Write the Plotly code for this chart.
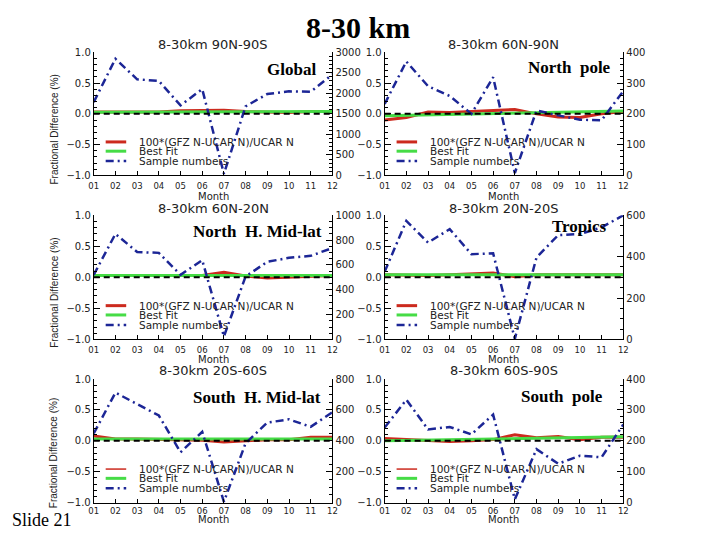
import plotly.graph_objects as go

W, H = 720, 540

months = list(range(1, 13))
month_labels = ["01", "02", "03", "04", "05", "06", "07", "08", "09", "10", "11", "12"]

panel_titles = ["8-30km 90N-90S", "8-30km 60N-90N", "8-30km 60N-20N",
                "8-30km 20N-20S", "8-30km 20S-60S", "8-30km 60S-90S"]
region_labels = ["Global", "North\u00a0\u00a0pole", "North\u00a0\u00a0H. Mid-lat",
                 "Tropics", "South\u00a0\u00a0H. Mid-lat", "South\u00a0\u00a0pole"]

# 100*(GFZ N - UCAR N)/UCAR N  (fractional difference, %)
diff_global = [0.03, 0.03, 0.04, 0.03, 0.05, 0.05, 0.06, 0.04, 0.03, 0.02, 0.04, 0.04]
diff_npole = [-0.10, -0.06, 0.03, 0.02, 0.04, 0.05, 0.07, 0.00, -0.05, -0.06, 0.00, 0.04]
diff_nmid = [0.03, 0.03, 0.02, 0.03, 0.03, 0.03, 0.08, 0.02, -0.01, 0.00, 0.02, 0.03]
diff_trop = [0.04, 0.03, 0.03, 0.04, 0.05, 0.07, 0.01, 0.04, 0.04, 0.04, 0.04, 0.04]
diff_smid = [0.08, 0.03, 0.03, 0.02, 0.02, 0.01, -0.02, 0.00, 0.02, 0.02, 0.06, 0.06]
diff_spole = [0.04, 0.02, 0.01, -0.01, 0.00, 0.02, 0.10, 0.05, 0.07, 0.02, 0.06, 0.06]

# Best fit lines (values at month 01 and month 12)
fit_months = [1, 12]
fit_global = [0.025, 0.04]
fit_npole = [-0.03, 0.045]
fit_nmid = [0.03, 0.03]
fit_trop = [0.04, 0.04]
fit_smid = [0.03, 0.03]
fit_spole = [0.0, 0.065]

# Sample numbers (right axis)
samples_global = [1786, 2841, 2341, 2302, 1706, 2103, 40, 1683, 1984, 2048, 2040, 2460]
samples_npole = [232, 370, 290, 258, 200, 319, 8, 211, 195, 181, 179, 274]
samples_nmid = [520, 850, 704, 697, 520, 638, 24, 507, 625, 657, 673, 736]
samples_trop = [327, 573, 468, 533, 412, 416, 3, 396, 504, 509, 541, 600]
samples_smid = [448, 712, 638, 564, 326, 459, 6, 385, 518, 539, 491, 585]
samples_spole = [243, 333, 237, 245, 221, 285, 11, 173, 126, 152, 147, 253]

diffs = [diff_global, diff_npole, diff_nmid, diff_trop, diff_smid, diff_spole]
fits = [fit_global, fit_npole, fit_nmid, fit_trop, fit_smid, fit_spole]
samples = [samples_global, samples_npole, samples_nmid, samples_trop, samples_smid, samples_spole]
sample_max = [3000, 400, 1000, 600, 800, 400]
sample_dtick = [500, 100, 200, 200, 200, 100]

legend_labels = ["100*(GFZ N-UCAR N)/UCAR N", "Best Fit", "Sample numbers"]

RED = "#cc2a1e"
GREEN = "#46dc46"
BLUE = "#1c2696"
YTICKFONT = dict(family="DejaVu Sans", size=10, color="#222222")
XTICKFONT = dict(family="DejaVu Sans", size=8.5, color="#222222")

# layout geometry in pixels
col_x = [(90, 332), (385, 627)]
row_y = [(47.3, 173.3), (214, 341), (381.5, 508)]
title_y = [39, 207, 373]
month_y = [195, 362, 525]
ylab_y = [126, 293, 457]
xlab_standoff = [2, 2, 0]
region_pos = [(317, 65), (617, 63), (323, 231), (612, 226), (322, 400), (608, 399)]
red_legend_w = [3, 3, 3, 3, 1.5, 1.5]


def px(x):
    return x / W


def py(y):
    return 1 - y / H


fig = go.Figure()
layout = dict(width=W, height=H, margin=dict(l=0, r=0, t=0, b=0),
              paper_bgcolor="white", plot_bgcolor="white", showlegend=False)
annotations = []
shapes = []

for i in range(6):
    r, c = divmod(i, 2)
    n = i + 1
    xa = "x" if n == 1 else f"x{n}"
    ya = "y" if n == 1 else f"y{n}"
    ya2 = f"y{n + 6}"
    xd = [px(col_x[c][0]), px(col_x[c][1])]
    yd = [py(row_y[r][1]), py(row_y[r][0])]

    layout[f"xaxis{n}"] = dict(domain=xd, anchor=ya, range=[1, 12], tickvals=months,
                               ticktext=month_labels, ticks="inside", ticklen=4,
                               tickcolor="black", showline=True, linecolor="black",
                               linewidth=1, mirror=False, showgrid=False, zeroline=False,
                               tickfont=XTICKFONT, ticklabelstandoff=xlab_standoff[r])
    layout[f"yaxis{n}"] = dict(domain=yd, anchor=xa, range=[-1, 1], dtick=0.5,
                               tickformat=".1f", ticks="inside", ticklen=6,
                               tickcolor="black", showline=True, linecolor="black",
                               linewidth=1, showgrid=False, zeroline=False,
                               tickfont=YTICKFONT,
                               minor=dict(dtick=0.1, ticks="inside", ticklen=3,
                                          tickcolor="black", showgrid=False))
    layout[f"yaxis{n + 6}"] = dict(overlaying=ya, anchor=xa, side="right",
                                   range=[0, sample_max[i]], dtick=sample_dtick[i],
                                   ticks="inside", ticklen=6, tickcolor="black",
                                   showline=True, linecolor="black", linewidth=1,
                                   showgrid=False, zeroline=False, tickfont=YTICKFONT,
                                   minor=dict(nticks=5, ticks="inside", ticklen=3,
                                              tickcolor="black", showgrid=False))

    # zero reference line
    shapes.append(dict(type="line", xref=f"{xa} domain", yref=ya, x0=0, x1=1, y0=0, y1=0,
                       line=dict(color="black", width=2, dash="6px,4px")))

    fig.add_trace(go.Scatter(x=months, y=diffs[i], xaxis=xa, yaxis=ya, mode="lines",
                             line=dict(color=RED, width=3), name=legend_labels[0]))
    fig.add_trace(go.Scatter(x=fit_months, y=fits[i], xaxis=xa, yaxis=ya, mode="lines",
                             line=dict(color=GREEN, width=3), name=legend_labels[1]))
    fig.add_trace(go.Scatter(x=months, y=samples[i], xaxis=xa, yaxis=ya2, mode="lines",
                             line=dict(color=BLUE, width=2.5, dash="8px,4px,2px,4px"),
                             name=legend_labels[2]))

    # in-plot legend
    leg_y = [0.272, 0.197, 0.117]
    leg_styles = [dict(color=RED, width=red_legend_w[i]),
                  dict(color=GREEN, width=3),
                  dict(color=BLUE, width=2.5, dash="8px,4px,2px,4px")]
    for k in range(3):
        shapes.append(dict(type="line", xref=f"{xa} domain", yref=f"{ya} domain",
                           x0=0.05, x1=0.136, y0=leg_y[k], y1=leg_y[k], line=leg_styles[k]))
        annotations.append(dict(xref=f"{xa} domain", yref=f"{ya} domain", x=0.186,
                                y=leg_y[k], text=legend_labels[k], showarrow=False,
                                xanchor="left", yanchor="middle", borderpad=0,
                                font=dict(family="DejaVu Sans", size=10.5, color="#222222")))

    cx = (col_x[c][0] + col_x[c][1]) / 2
    annotations.append(dict(xref="paper", yref="paper", x=px(cx), y=py(title_y[r]),
                            text=panel_titles[i], showarrow=False, xanchor="center",
                            yanchor="middle",
                            font=dict(family="DejaVu Sans", size=13, color="#222222")))
    annotations.append(dict(xref="paper", yref="paper", x=px(cx), y=py(month_y[r]),
                            text="Month", showarrow=False, xanchor="center",
                            yanchor="middle", borderpad=0,
                            font=dict(family="DejaVu Sans", size=10, color="#222222")))
    rx, ry = region_pos[i]
    annotations.append(dict(xref="paper", yref="paper", x=px(rx), y=py(ry),
                            text=f"<b>{region_labels[i]}</b>", showarrow=False,
                            xanchor="right", yanchor="middle",
                            font=dict(family="Liberation Serif", size=17, color="black")))
    if c == 0:
        annotations.append(dict(xref="paper", yref="paper", x=px(50), y=py(ylab_y[r]),
                                text="Fractional Difference (%)", showarrow=False,
                                textangle=-90, xanchor="center", yanchor="middle",
                                font=dict(family="Liberation Sans", size=10,
                                          color="#222222")))

annotations.append(dict(xref="paper", yref="paper", x=px(358), y=py(22),
                        text="<b>8-30 km</b>", showarrow=False, xanchor="center",
                        yanchor="middle",
                        font=dict(family="Liberation Serif", size=30, color="black")))
annotations.append(dict(xref="paper", yref="paper", x=px(5), y=py(526),
                        text="Slide 21", showarrow=False, xanchor="left",
                        yanchor="middle",
                        font=dict(family="Liberation Serif", size=18, color="black")))

layout["annotations"] = annotations
layout["shapes"] = shapes
fig.update_layout(**layout)
fig.write_html(
    "out.html",
    config={"displayModeBar": False, "responsive": False},
    post_script=("document.documentElement.style.margin='0';"
                 "document.documentElement.style.overflow='hidden';"
                 "document.body.style.margin='0';document.body.style.padding='0';"
                 "document.body.style.overflow='hidden';"),
)
